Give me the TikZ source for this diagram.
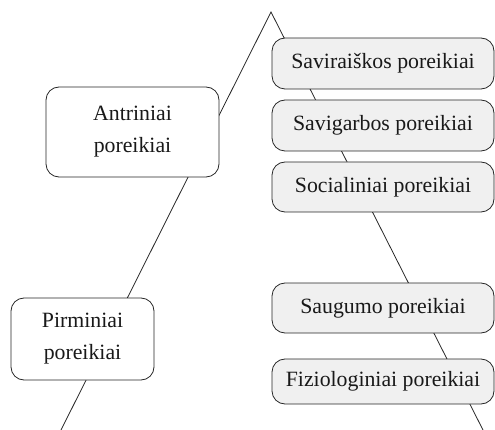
\documentclass[tikz,border=0pt]{standalone}
\usepackage{fontspec}
\setmainfont{Liberation Serif}
\begin{document}
\begin{tikzpicture}[x=1pt,y=-1pt,
  edge/.style={draw=black!85,line width=0.8pt},
  needbox/.style={draw=black!85,line width=0.8pt,rounded corners=13pt,
    align=center,inner sep=0pt,font=\fontsize{21.8}{32}\selectfont,text=black!90},
  groupbox/.style={needbox,fill=white},
  levelbox/.style={needbox,fill=black!6,minimum width=222pt}]
  \useasboundingbox (0,0) rectangle (495,430);
  % outline of the pyramid, drawn first so the boxes cover it
  \coordinate (apex) at (271,12);
  \coordinate (lfoot) at (61,430);
  \coordinate (rfoot) at (483,430);
  \draw[edge] (lfoot) -- (apex) -- (rfoot);
  % primary and secondary groups
  \node[groupbox,minimum width=173pt,minimum height=90pt] (antr) at (132.5,132) {Antriniai\\poreikiai};
  \node[groupbox,minimum width=143pt,minimum height=82pt] (pirm) at (82.5,339) {Pirminiai\\poreikiai};
  % levels of needs
  \node[levelbox,minimum height=51pt] (savir) at (383,63.5) {Saviraiškos poreikiai};
  \node[levelbox,minimum height=51pt] (savig) at (383,125.5) {Savigarbos poreikiai};
  \node[levelbox,minimum height=50pt] (soc) at (383,187) {Socialiniai poreikiai};
  \node[levelbox,minimum height=50pt] (saug) at (383,308) {Saugumo poreikiai};
  \node[levelbox,minimum height=45pt] (fiz) at (383,381.5) {Fiziologiniai poreikiai};
\end{tikzpicture}
\end{document}
